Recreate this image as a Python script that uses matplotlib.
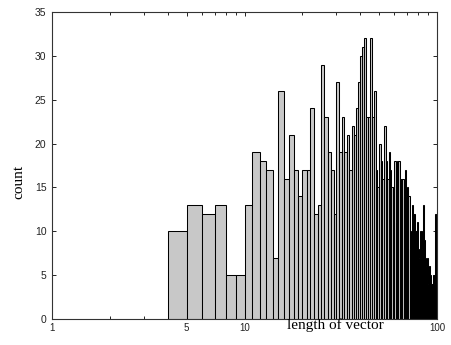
#!/usr/bin/env python3
"""Histogram of vector lengths on a log x axis."""

import matplotlib

matplotlib.use("Agg")

import matplotlib.pyplot as plt
import numpy as np

# bin left edges (integer vector lengths) and counts
lengths = np.arange(4, 100)
counts = [
    10, 13, 12, 13, 5, 5, 13, 19, 18, 17,          # 4-13
    7, 26, 16, 21, 17, 14, 17, 17, 24, 12,         # 14-23
    13, 29, 23, 19, 17, 12, 27, 19, 23, 19,        # 24-33
    21, 17, 22, 21, 24, 27, 30, 31, 32, 23,        # 34-43
    23, 32, 23, 26, 17, 15, 20, 18, 16, 22,        # 44-53
    18, 16, 19, 17, 15, 15, 18, 11, 18, 18,        # 54-63
    16, 16, 16, 14, 17, 14, 15, 14, 8, 10,         # 64-73
    13, 12, 12, 10, 10, 11, 8, 7, 10, 10,          # 74-83
    8, 13, 9, 7, 6, 7, 4, 6, 5, 4,                 # 84-93
    4, 5, 5, 4, 12, 12,                            # 94-99
]
xtick_values = [1, 5, 10, 100]
xtick_labels = ["1", "5", "10", "100"]
yticks = [0, 5, 10, 15, 20, 25, 30, 35]

fig = plt.figure(figsize=(4.51, 3.45), dpi=100)
ax = fig.add_axes([0.1153, 0.0754, 0.8537, 0.8899])

ax.bar(lengths, counts, width=1.0, align="edge", color="#c8c8c8",
       edgecolor="black", linewidth=0.75)

ax.set_xscale("log")
ax.set_xlim(1, 100)
ax.set_ylim(0, 35)
ax.set_xticks(xtick_values)
ax.set_xticklabels(xtick_labels)
ax.set_yticks(yticks)
ax.tick_params(which="both", direction="in", top=True, right=True,
               labelsize=7.5, length=3, width=0.6,
               labelcolor="#222222", labelfontfamily="Liberation Sans")
ax.tick_params(which="minor", length=2)
ax.tick_params(axis="x", pad=3, labelsize=7)
ax.tick_params(axis="y", pad=4)
for spine in ax.spines.values():
    spine.set_linewidth(0.8)
    spine.set_color("#333333")

ax.set_ylabel("count", family="Liberation Serif", fontsize=11)
ax.yaxis.set_label_coords(-0.07, 0.446)
ax.text(0.61, -0.033, "length of vector", transform=ax.transAxes,
        family="Liberation Serif", fontsize=11, ha="left", va="baseline")

fig.savefig("out.png", dpi=100)
plt.close(fig)
